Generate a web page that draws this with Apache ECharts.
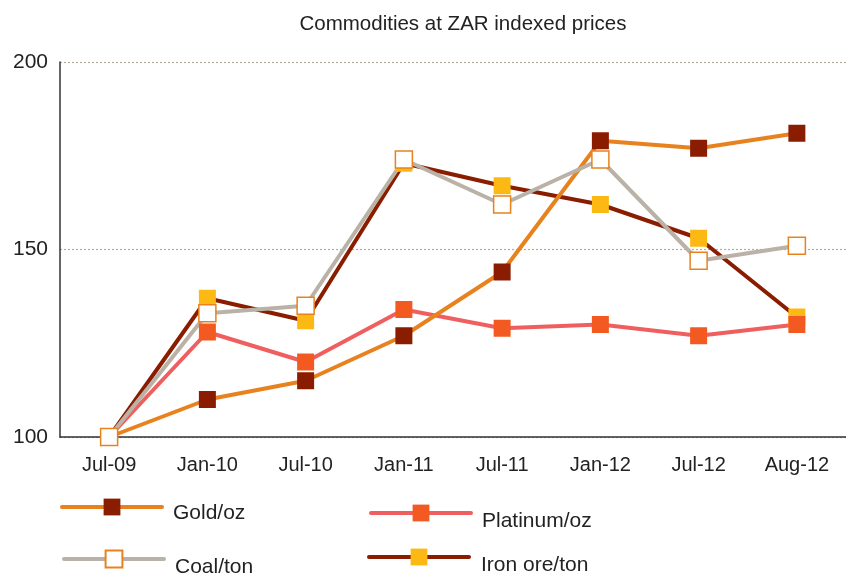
<!DOCTYPE html>
<html>
<head>
<meta charset="utf-8">
<script src="https://cdn.jsdelivr.net/npm/echarts@6/dist/echarts.min.js"></script>
<style>
  html, body { margin: 0; padding: 0; background: #fff; }
  #main { width: 846px; height: 577px; }
</style>
</head>
<body>
<div id="main"></div>
<script>
var months = ['Jul-09', 'Jan-10', 'Jul-10', 'Jan-11', 'Jul-11', 'Jan-12', 'Jul-12', 'Aug-12'];
var gold = [100, 110, 115, 127, 144, 179, 177, 181];
var platinum = [100, 128, 120, 134, 129, 130, 127, 130];
var coal = [100, 133, 135, 174, 162, 174, 147, 151];
var ironOre = [100, 137, 131, 173, 167, 162, 153, 132];

var chart = echarts.init(document.getElementById('main'));

// one legend per entry so the 2x2 block can be placed like the original.
// a small spacer line above the name pushes the text below the icon
function legendAt(name, left, top, drop, leftPad) {
  return {
    data: [name],
    left: left,
    top: top,
    padding: 0,
    itemWidth: 100,
    itemHeight: 21,
    selectedMode: false,
    lineStyle: { width: 4, cap: 'round' },
    formatter: '{s| }\n{t|{name}}',
    textStyle: {
      rich: {
        s: { fontSize: 1, lineHeight: drop * 2, height: drop * 2 },
        t: {
          fontFamily: 'Liberation Sans',
          fontSize: 21,
          lineHeight: 21,
          color: '#222',
          padding: [0, 0, 0, leftPad]
        }
      }
    }
  };
}

function series(name, data, lineColor, markColor, border) {
  return {
    name: name,
    type: 'line',
    data: data,
    symbol: 'rect',
    symbolSize: 17,
    showAllSymbol: true,
    lineStyle: { color: lineColor, width: 4 },
    itemStyle: {
      color: markColor,
      borderColor: border || markColor,
      borderWidth: border ? 1.5 : 0
    },
    emphasis: { disabled: true },
    animation: false
  };
}

var option = {
  title: {
    text: 'Commodities at ZAR indexed prices',
    left: 458,
    textAlign: 'center',
    top: 9,
    textStyle: {
      fontFamily: 'Liberation Sans',
      fontWeight: 'normal',
      fontSize: 20.5,
      color: '#222'
    }
  },
  legend: [
    legendAt('Gold/oz', 60, 490.5, 6, 6),
    legendAt('Platinum/oz', 369, 494.5, 8, 6),
    legendAt('Coal/ton', 62, 540.5, 8, 6),
    legendAt('Iron ore/ton', 367, 538.5, 8, 7)
  ],
  grid: { left: 60, top: 62, width: 791, bottom: 140 },
  xAxis: {
    type: 'category',
    data: months,
    boundaryGap: true,
    axisLine: { lineStyle: { color: '#333', width: 1.5 } },
    axisTick: { inside: true, length: 9, alignWithLabel: true, lineStyle: { color: '#333', width: 1.5 } },
    axisLabel: { fontFamily: 'Liberation Sans', fontSize: 20, color: '#222', margin: 18 }
  },
  yAxis: {
    type: 'value',
    min: 100,
    max: 200,
    interval: 50,
    axisLine: { show: true, lineStyle: { color: '#333', width: 1.5 } },
    axisTick: { show: false },
    axisLabel: { fontFamily: 'Liberation Sans', fontSize: 21, color: '#222', margin: 12 },
    splitLine: { lineStyle: { color: '#b5aca0', type: [2, 2], width: 1.2 } }
  },
  series: [
    series('Iron ore/ton', ironOre, '#8a1c00', '#fdb913'),
    series('Platinum/oz', platinum, '#f05f5f', '#f25a22'),
    series('Gold/oz', gold, '#e8821e', '#8a1c00'),
    series('Coal/ton', coal, '#bab2a7', '#ffffff', '#e8821e')
  ]
};

chart.setOption(option);
</script>
</body>
</html>
